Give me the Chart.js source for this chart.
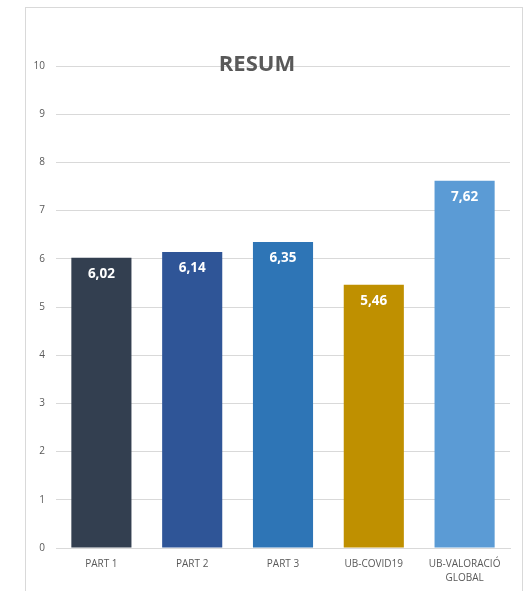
<!DOCTYPE html>
<html>
<head>
<meta charset="utf-8">
<script src="https://cdn.jsdelivr.net/npm/chart.js@4/dist/chart.umd.min.js"></script>
<style>
html,body{margin:0;padding:0;background:#fff;}
#wrap{position:relative;width:526px;height:591px;}
</style>
</head>
<body>
<div id="wrap"><canvas id="c" width="526" height="591"></canvas></div>
<script>
const categories = ["PART 1", "PART 2", "PART 3", "UB-COVID19", ["UB-VALORACIÓ", "GLOBAL"]];
const values = [6.02, 6.14, 6.35, 5.46, 7.62];
const valueLabels = ["6,02", "6,14", "6,35", "5,46", "7,62"];
const barColors = ["#333F50", "#2F5597", "#2E75B6", "#BF9000", "#5B9BD5"];
const yTicks = [0, 1, 2, 3, 4, 5, 6, 7, 8, 9, 10];
const titleText = "RESUM";

const framePlugin = {
  id: 'frame',
  beforeDraw(chart) {
    const ctx = chart.ctx;
    ctx.save();
    ctx.fillStyle = '#fff';
    ctx.fillRect(0, 0, chart.width, chart.height);
    ctx.strokeStyle = '#d9d9d9';
    ctx.lineWidth = 1;
    ctx.strokeRect(25.5, 7.5, 497, 620);
    ctx.restore();
  }
};

const labelPlugin = {
  id: 'valueLabels',
  afterDatasetsDraw(chart) {
    const ctx = chart.ctx;
    const meta = chart.getDatasetMeta(0);
    ctx.save();
    ctx.fillStyle = '#ffffff';
    ctx.font = 'bold 13.5px "Open Sans"';
    ctx.textAlign = 'center';
    ctx.textBaseline = 'middle';
    meta.data.forEach((bar, i) => {
      ctx.fillText(valueLabels[i], bar.x, bar.y + 16);
    });
    ctx.restore();
  }
};

const titlePlugin = {
  id: 'overTitle',
  afterDraw(chart) {
    const ctx = chart.ctx;
    const a = chart.chartArea;
    ctx.save();
    ctx.fillStyle = '#595959';
    ctx.font = 'bold 22px "Open Sans"';
    ctx.textAlign = 'center';
    ctx.textBaseline = 'alphabetic';
    ctx.fillText(titleText, 257, a.top + 5);
    ctx.restore();
  }
};

new Chart(document.getElementById('c'), {
  type: 'bar',
  data: {
    labels: categories,
    datasets: [{
      data: values,
      backgroundColor: barColors,
      borderWidth: 0,
      barPercentage: 0.662,
      categoryPercentage: 1
    }]
  },
  options: {
    responsive: false,
    animation: false,
    devicePixelRatio: 1,
    layout: { padding: { left: 0, right: 16, top: 66, bottom: 0 } },
    plugins: { legend: { display: false }, tooltip: { enabled: false }, title: { display: false } },
    scales: {
      x: {
        grid: { display: false, drawTicks: false },
        border: { display: true, color: '#d9d9d9' },
        ticks: {
          color: '#595959',
          font: { family: 'Open Sans', size: 10, lineHeight: 1.4 },
          padding: 9,
          maxRotation: 0,
          autoSkip: false
        },
        afterFit(scale) { scale.height = 43; }
      },
      y: {
        min: 0,
        max: 10,
        afterBuildTicks(scale) { scale.ticks = yTicks.map(v => ({ value: v })); },
        grid: { color: '#d9d9d9', drawTicks: false },
        border: { display: false },
        ticks: {
          color: '#595959',
          font: { family: 'Open Sans', size: 10 },
          padding: 11
        },
        afterFit(scale) { scale.width = 56; }
      }
    }
  },
  plugins: [framePlugin, labelPlugin, titlePlugin]
});
</script>
</body>
</html>
